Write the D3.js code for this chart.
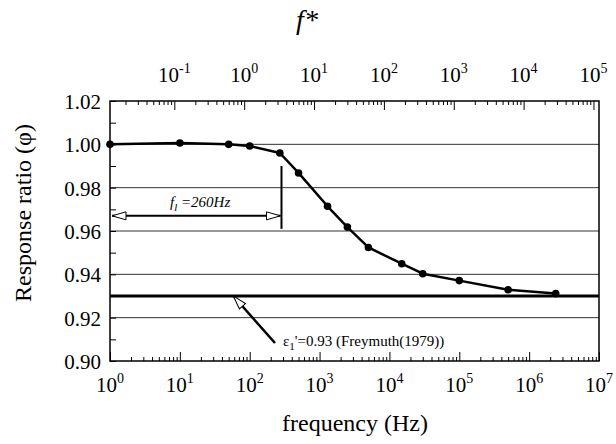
<!DOCTYPE html>
<html>
<head>
<meta charset="utf-8">
<script src="https://cdn.jsdelivr.net/npm/d3@7"></script>
<style>
body { margin: 0; background: #fff; }
svg text { font-family: "Liberation Serif", "Times New Roman", serif; fill: #000; }
</style>
</head>
<body>
<svg id="chart" width="616" height="444"></svg>
<script>
// measured response ratio vs frequency
var freq = [1, 10, 50, 100, 270, 500, 1300, 2500, 5000, 15000, 30000, 100000, 500000, 2400000];
var ratio = [1.000, 1.0006, 1.000, 0.9992, 0.996, 0.9868, 0.9714, 0.9618, 0.9524, 0.9449, 0.9403, 0.9371, 0.9329, 0.9311];

var freqDomain = [1, 1e7];
var fstarDomain = [0.012, 1.2e5];   // f* on the top axis
var ratioDomain = [0.90, 1.02];
var ratioLabels = [0.90, 0.92, 0.94, 0.96, 0.98, 1.00, 1.02];
var gridValues = [0.92, 0.94, 0.96, 0.98, 1.00];
var bottomExp = [0, 1, 2, 3, 4, 5, 6, 7];
var topExp = [-1, 0, 1, 2, 3, 4, 5];
var refValue = 0.93;
var cutoffFreq = 285;  // where the f_l marker sits

var pL = 110, pR = 599, pT = 101, pB = 361;
var serif = "'Liberation Serif', 'Times New Roman', serif";
var svg = d3.select("#chart");

var x = d3.scaleLog().domain(freqDomain).range([pL, pR]);
var xTop = d3.scaleLog().domain(fstarDomain).range([pL, pR]);
var y = d3.scaleLinear().domain(ratioDomain).range([pB, pT]);

function minors(dom) {
    var out = [];
    var lo = Math.floor(Math.log10(dom[0])), hi = Math.ceil(Math.log10(dom[1]));
    for (var e = lo; e <= hi; e++) {
        for (var m = 2; m <= 9; m++) {
            var v = m * Math.pow(10, e);
            if (v >= dom[0] && v <= dom[1]) out.push(v);
        }
    }
    return out;
}

// markers
var defs = svg.append("defs");
defs.append("marker")
    .attr("id", "open")
    .attr("viewBox", "0 0 16 10")
    .attr("refX", 15).attr("refY", 5)
    .attr("markerWidth", 16).attr("markerHeight", 10)
    .attr("markerUnits", "userSpaceOnUse")
    .attr("orient", "auto-start-reverse")
    .append("path")
    .attr("d", "M1,1 L15,5 L1,9 Z")
    .attr("fill", "#fff").attr("stroke", "#000").attr("stroke-width", 1);

// gridlines
svg.append("g").selectAll("line")
    .data(gridValues).enter().append("line")
    .attr("x1", pL).attr("x2", pR)
    .attr("y1", function(d) { return y(d); })
    .attr("y2", function(d) { return y(d); })
    .attr("stroke", "#333").attr("stroke-width", 1);

// bottom ticks (inward)
svg.append("g").attr("transform", "translate(0," + pB + ")")
    .call(d3.axisTop(x).tickValues(minors(freqDomain)).tickSize(4).tickSizeOuter(0).tickFormat(""));
svg.append("g").attr("transform", "translate(0," + pB + ")")
    .call(d3.axisTop(x).tickValues(bottomExp.map(function(e) { return Math.pow(10, e); })).tickSize(9).tickSizeOuter(0).tickFormat(""));

// top ticks (inward)
svg.append("g").attr("transform", "translate(0," + pT + ")")
    .call(d3.axisBottom(xTop).tickValues(minors(fstarDomain)).tickSize(4).tickSizeOuter(0).tickFormat(""));
svg.append("g").attr("transform", "translate(0," + pT + ")")
    .call(d3.axisBottom(xTop).tickValues(topExp.map(function(e) { return Math.pow(10, e); })).tickSize(9).tickSizeOuter(0).tickFormat(""));

// left ticks every 0.01
svg.append("g").attr("transform", "translate(" + pL + ",0)")
    .call(d3.axisRight(y).tickValues(d3.range(0, 13).map(function(i) { return 0.90 + i * 0.01; })).tickSize(6).tickSizeOuter(0).tickFormat(""));

svg.selectAll(".domain").remove();
svg.selectAll(".tick line").attr("stroke", "#000").attr("stroke-width", 1);
svg.selectAll(".tick text").remove();

// left labels
svg.append("g").selectAll("text")
    .data(ratioLabels).enter().append("text")
    .attr("x", pL - 9)
    .attr("y", function(d) { return y(d) + 8; })
    .attr("text-anchor", "end")
    .attr("font-size", 21)
    .style("font-family", serif)
    .text(function(d) { return d3.format(".2f")(d); });

function powLabels(g, exps, sc, baseY) {
    var t = g.selectAll("text").data(exps).enter().append("text")
        .attr("x", function(e) { return sc(Math.pow(10, e)); })
        .attr("y", baseY)
        .attr("text-anchor", "middle")
        .attr("font-size", 21)
        .style("font-family", serif);
    t.append("tspan").text("10");
    t.append("tspan").attr("dy", -9).attr("font-size", 14).text(function(e) { return e; });
}
powLabels(svg.append("g"), bottomExp, x, 392);
powLabels(svg.append("g"), topExp, xTop, 82);

// reference line
svg.append("line")
    .attr("x1", pL).attr("x2", pR)
    .attr("y1", y(refValue)).attr("y2", y(refValue))
    .attr("stroke", "#000").attr("stroke-width", 3);

// frame
svg.append("rect")
    .attr("x", pL).attr("y", pT)
    .attr("width", pR - pL).attr("height", pB - pT)
    .attr("fill", "none").attr("stroke", "#000").attr("stroke-width", 1.5);

// data line and points
var line = d3.line()
    .x(function(d, i) { return x(freq[i]); })
    .y(function(d) { return y(d); });
svg.append("path")
    .datum(ratio)
    .attr("d", line)
    .attr("fill", "none").attr("stroke", "#000").attr("stroke-width", 2.5)
    .attr("stroke-linejoin", "round");
svg.append("g").selectAll("circle")
    .data(ratio).enter().append("circle")
    .attr("cx", function(d, i) { return x(freq[i]); })
    .attr("cy", function(d) { return y(d); })
    .attr("r", 3.8)
    .attr("fill", "#000");

// f_l annotation
svg.append("line")
    .attr("x1", x(cutoffFreq)).attr("x2", x(cutoffFreq))
    .attr("y1", y(0.990)).attr("y2", y(0.961))
    .attr("stroke", "#000").attr("stroke-width", 2);
svg.append("line")
    .attr("x1", x(1) + 2).attr("x2", x(cutoffFreq) - 1)
    .attr("y1", y(0.967)).attr("y2", y(0.967))
    .attr("stroke", "#000").attr("stroke-width", 2)
    .attr("marker-start", "url(#open)").attr("marker-end", "url(#open)");
var fl = svg.append("text")
    .attr("x", x(19.5)).attr("y", y(0.9712))
    .attr("text-anchor", "middle")
    .attr("font-size", 15).attr("font-style", "italic")
    .style("font-family", serif);
fl.append("tspan").text("f");
fl.append("tspan").attr("dy", 4).attr("font-size", 11).text("l");
fl.append("tspan").attr("dy", -4).text(" =260Hz");

// epsilon annotation
svg.append("line")
    .attr("x1", x(230)).attr("y1", y(0.9083))
    .attr("x2", x(58)).attr("y2", y(0.9301))
    .attr("stroke", "#000").attr("stroke-width", 2.5)
    .attr("marker-end", "url(#open)");
var ep = svg.append("text")
    .attr("x", x(300)).attr("y", y(0.9070))
    .attr("font-size", 15)
    .style("font-family", serif);
ep.append("tspan").text("ε");
ep.append("tspan").attr("dy", 4).attr("font-size", 11).text("1");
ep.append("tspan").attr("dy", -4).text("'=0.93 (Freymuth(1979))");

// axis titles
svg.append("text")
    .attr("x", 307).attr("y", 29)
    .attr("text-anchor", "middle")
    .attr("font-size", 28).attr("font-style", "italic")
    .style("font-family", serif)
    .text("f*");
svg.append("text")
    .attr("transform", "translate(31,213) rotate(-90)")
    .attr("text-anchor", "middle")
    .attr("font-size", 24)
    .style("font-family", serif)
    .text("Response ratio (φ)");
svg.append("text")
    .attr("x", 355).attr("y", 431)
    .attr("text-anchor", "middle")
    .attr("font-size", 24)
    .style("font-family", serif)
    .text("frequency (Hz)");
</script>
</body>
</html>
